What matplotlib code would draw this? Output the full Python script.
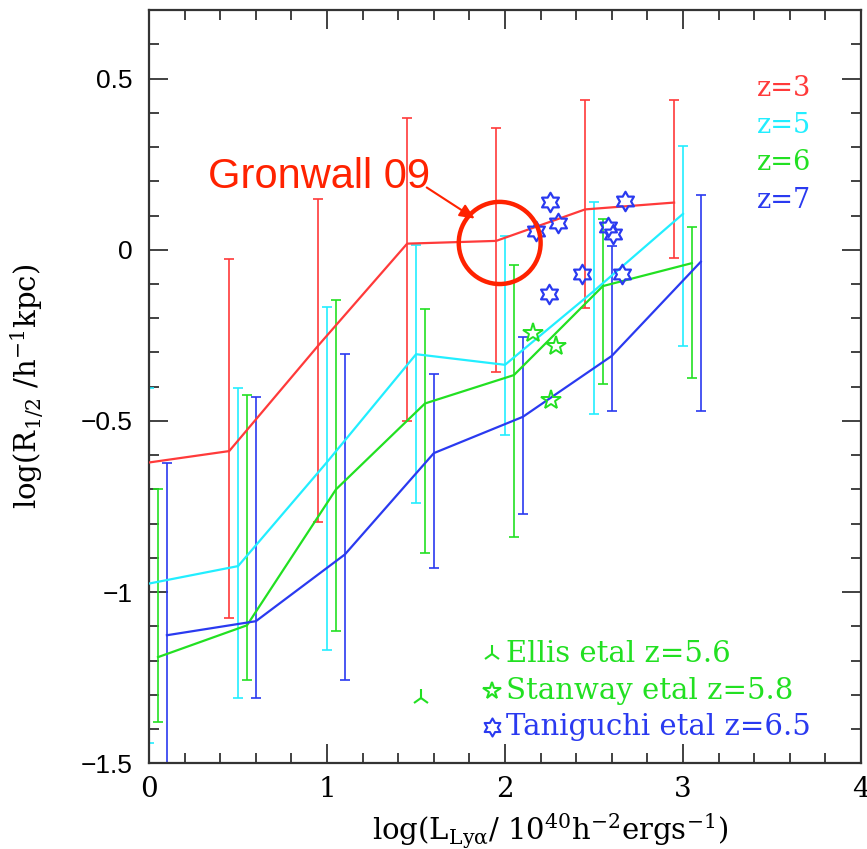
import numpy as np
import matplotlib
matplotlib.use('Agg')
import matplotlib.pyplot as plt
from matplotlib.path import Path
from matplotlib.patches import Ellipse
from matplotlib.ticker import MultipleLocator, FuncFormatter

plt.rcParams['mathtext.fontset'] = 'dejavuserif'

# Model curves: log L bins, median log R, and error-bar ends (lo, hi)
labels_z = ['z=3', 'z=5', 'z=6', 'z=7']
colors_z = ['#ff3a3a', '#22eeff', '#22e022', '#2a3af0']

x_z3 = [-0.05, 0.45, 0.95, 1.45, 1.95, 2.45, 2.95]
y_z3 = [-0.625, -0.588, -0.28, 0.018, 0.026, 0.118, 0.138]
lo_z3 = [-1.2, -1.076, -0.794, -0.50, -0.358, -0.17, -0.023]
hi_z3 = [-0.05, -0.026, 0.147, 0.385, 0.356, 0.438, 0.438]

x_z5 = [0.0, 0.5, 1.0, 1.5, 2.0, 2.5, 3.0]
y_z5 = [-0.975, -0.924, -0.62, -0.305, -0.336, -0.12, 0.105]
lo_z5 = [-1.44, -1.31, -1.17, -0.74, -0.54, -0.48, -0.28]
hi_z5 = [-0.405, -0.405, -0.168, 0.015, 0.041, 0.141, 0.303]

x_z6 = [0.05, 0.55, 1.05, 1.55, 2.05, 2.55, 3.05]
y_z6 = [-1.19, -1.097, -0.70, -0.449, -0.366, -0.106, -0.039]
lo_z6 = [-1.38, -1.256, -1.115, -0.885, -0.84, -0.392, -0.374]
hi_z6 = [-0.70, -0.425, -0.148, -0.172, -0.044, 0.09, 0.068]

x_z7 = [0.1, 0.6, 1.1, 1.6, 2.1, 2.6, 3.1]
y_z7 = [-1.126, -1.085, -0.89, -0.594, -0.488, -0.31, -0.035]
lo_z7 = [-1.6, -1.31, -1.256, -0.93, -0.773, -0.47, -0.47]
hi_z7 = [-0.624, -0.43, -0.305, -0.364, -0.256, 0.012, 0.159]

# Observations
ellis_x = [1.53]
ellis_y = [-1.31]
stanway_x = [2.157, 2.287, 2.26]
stanway_y = [-0.244, -0.282, -0.44]
tani_x = [2.253, 2.30, 2.174, 2.674, 2.58, 2.607, 2.43, 2.66, 2.247]
tani_y = [0.141, 0.077, 0.056, 0.144, 0.068, 0.047, -0.07, -0.07, -0.13]

series = [
    (x_z3, y_z3, lo_z3, hi_z3),
    (x_z5, y_z5, lo_z5, hi_z5),
    (x_z6, y_z6, lo_z6, hi_z6),
    (x_z7, y_z7, lo_z7, hi_z7),
]

# six-pointed open star marker
ang = np.pi / 2 + np.arange(12) * np.pi / 6
rad = np.where(np.arange(12) % 2 == 0, 1.0, 0.577)
verts = np.column_stack([rad * np.cos(ang), rad * np.sin(ang)])
hexagram = Path(np.vstack([verts, verts[:1]]), closed=True)

fig = plt.figure(figsize=(8.67, 8.49), dpi=100)
ax = fig.add_axes([0.172, 0.101, 0.821, 0.887])

for (x, y, lo, hi), c in zip(series, colors_z):
    x, y, lo, hi = map(np.array, (x, y, lo, hi))
    ax.errorbar(x, y, yerr=[y - lo, hi - y], fmt='none', ecolor=c,
                elinewidth=1.2, capsize=3.8, capthick=1.2, zorder=2)
    ax.plot(x, y, color=c, lw=1.6, zorder=3)

ax.plot(ellis_x, ellis_y, ls='none', marker='2', ms=13, mew=1.5,
        color='#22e022', zorder=4)
ax.plot(stanway_x, stanway_y, ls='none', marker='*', ms=15, mew=1.4,
        mfc='none', mec='#22e022', zorder=4)
ax.plot(tani_x, tani_y, ls='none', marker=hexagram, ms=14, mew=1.6,
        mfc='none', mec='#2a3af0', zorder=4)

# z labels, upper right
for i, (lab, c) in enumerate(zip(labels_z, colors_z)):
    ax.text(3.415, 0.45 - i * 0.109, lab, color=c, fontsize=19.5,
            family='DejaVu Serif', va='baseline')

# observation key, lower right
keys = [('2', 'Ellis etal z=5.6', '#22e022', 'full'),
        ('*', 'Stanway etal z=5.8', '#22e022', 'none'),
        (hexagram, 'Taniguchi etal z=6.5', '#2a3af0', 'none')]
for i, (m, lab, c, fill) in enumerate(keys):
    yy = -1.182 - i * 0.106
    ax.plot([1.925], [yy], ls='none', marker=m, ms=13, mew=1.5,
            color=c, mfc='none' if fill == 'none' else c, mec=c)
    ax.text(2.005, yy, lab, color=c, fontsize=21, family='DejaVu Serif',
            va='center')

# Gronwall 09 annotation
ax.add_patch(Ellipse((1.97, 0.02), 0.46, 0.24, fill=False,
                     ec='#ff2200', lw=3.2, zorder=5))
ax.annotate('', xy=(1.83, 0.091), xytext=(1.56, 0.182),
            arrowprops=dict(arrowstyle='-|>,head_length=0.9,head_width=0.4',
                            color='#ff2200', lw=1.5, shrinkA=0, shrinkB=0))
ax.text(0.33, 0.18, 'Gronwall 09', color='#ff2200', fontsize=30,
        family='Liberation Sans', va='baseline')

ax.set_xlim(0, 4)
ax.set_ylim(-1.5, 0.7)
ax.xaxis.set_major_locator(MultipleLocator(1))
ax.xaxis.set_minor_locator(MultipleLocator(0.2))
ax.yaxis.set_major_locator(MultipleLocator(0.5))
ax.yaxis.set_minor_locator(MultipleLocator(0.1))
ax.yaxis.set_major_formatter(FuncFormatter(lambda v, p: ('%g' % v).replace('-', '\u2212')))
ax.tick_params(which='both', direction='in', top=True, right=True,
               color='#333333', width=1.3)
ax.tick_params(which='major', length=14)
ax.tick_params(which='minor', length=7)
ax.tick_params(axis='x', labelsize=20, pad=9)
ax.tick_params(axis='y', labelsize=19, pad=12)
for t in ax.get_xticklabels():
    t.set_family('DejaVu Serif')
for t in ax.get_yticklabels():
    t.set_family('Liberation Sans')
for s in ax.spines.values():
    s.set_linewidth(1.6)
    s.set_color('#333333')

ax.set_xlabel(r'log(L$_{\mathrm{Ly\alpha}}$/ 10$^{40}$h$^{-2}$ergs$^{-1}$)',
              fontsize=21, family='DejaVu Serif')
ax.xaxis.set_label_coords(0.563, -0.064)
ax.set_ylabel(r'log(R$_{1/2}$ /h$^{-1}$kpc)', fontsize=21, family='DejaVu Serif')
ax.yaxis.set_label_coords(-0.145, 0.5)

fig.savefig('out.png', dpi=100)
